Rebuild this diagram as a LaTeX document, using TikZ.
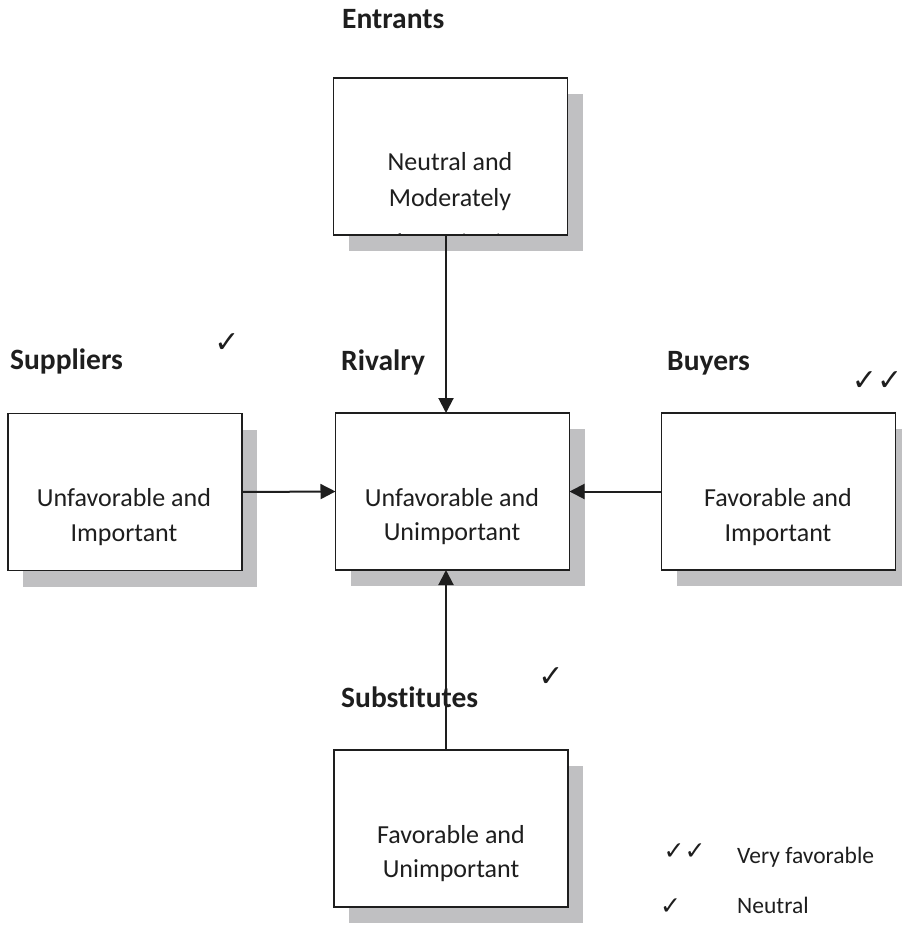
\documentclass[tikz,border=0pt]{standalone}
\usepackage{fontspec}
\setmainfont{Carlito}[Ligatures=NoCommon]
\newfontfamily\tickfont{DejaVu Sans Bold}
\usetikzlibrary{arrows.meta,shadows}
\definecolor{shadowgray}{RGB}{192,192,194}
\definecolor{ink}{RGB}{30,30,30}
\tikzset{
  box/.style={draw=ink, line width=1.8pt, fill=white, minimum width=234pt, minimum height=157pt,
    inner sep=0pt, outer sep=0pt,
    drop shadow={shadow xshift=15pt, shadow yshift=-16pt, fill=shadowgray, opacity=1}},
  head/.style={font=\fontsize{29.5}{34}\selectfont\bfseries, anchor=base west, inner sep=0pt, text=ink},
  body/.style={font=\fontsize{26}{35}\selectfont, anchor=base, inner sep=0pt, text=ink},
  legendtxt/.style={font=\fontsize{23.5}{28}\selectfont, anchor=base west, inner sep=0pt, text=ink},
  tick/.style={font=\tickfont\fontsize{30}{36}\selectfont, inner sep=0pt, text=ink},
  smalltick/.style={font=\tickfont\fontsize{25}{30}\selectfont, inner sep=0pt, text=ink},
  arr/.style={draw=ink, line width=2pt, -{Triangle[length=15pt,width=15pt]}}
}
\begin{document}
\begin{tikzpicture}[x=1pt,y=-1pt]
\useasboundingbox (0,0) rectangle (901,925);

% boxes
\node[box] (ent) at (450.5,156.5) {};
\node[box] (sup) at (125,492) {};
\node[box] (riv) at (452.5,491.5) {};
\node[box] (buy) at (778.5,491.5) {};
\node[box] (sub) at (451,828.5) {};

% headings
\node[head] (h-ent) at (342,29) {Entrants};
\node[head] (h-sup) at (10,369) {Suppliers};
\node[head] (h-riv) at (341,370) {Rivalry};
\node[head] (h-buy) at (667,370) {Buyers};
\node[head] (h-sub) at (341,707) {Substitutes};

% box texts
\begin{scope}
  \clip ([xshift=1pt,yshift=-1pt]ent.north west) rectangle ([xshift=-1pt,yshift=1pt]ent.south east);
  \node[body] (ent-1) at (450,171) {Neutral and};
  \node[body] (ent-2) at (450,207) {Moderately};
  \node[body] (ent-3) at (450,250) {Important};
\end{scope}
\node[body] (sup-1) at (124,506) {Unfavorable and};
\node[body] (sup-2) at (124,541) {Important};
\node[body] (riv-1) at (452,506) {Unfavorable and};
\node[body] (riv-2) at (452,540.5) {Unimportant};
\node[body] (buy-1) at (778,506) {Favorable and};
\node[body] (buy-2) at (778,541) {Important};
\node[body] (sub-1) at (451,843) {Favorable and};
\node[body] (sub-2) at (451,877) {Unimportant};

% ticks
\node[tick] (t-sup) at (227,343) {✓};
\node[tick] (t-buy) at (877,381) {✓✓};
\node[tick] (t-sub) at (551,677) {✓};

% legend
\node[smalltick] (l-vf) at (684.5,852) {✓✓};
\node[smalltick] (l-n) at (670.5,907) {✓};
\node[legendtxt] (l-vf-t) at (737,863) {Very favorable};
\node[legendtxt] (l-n-t) at (737,913) {Neutral};

% connectors
\coordinate (ax) at (446,0);
\draw[arr] (ent.south -| ax) -- (riv.north -| ax);
\draw[arr] (sup.east) -- (riv.west);
\draw[arr] (buy.west) -- (riv.east);
\draw[arr] (sub.north -| ax) -- (riv.south -| ax);
\end{tikzpicture}
\end{document}
